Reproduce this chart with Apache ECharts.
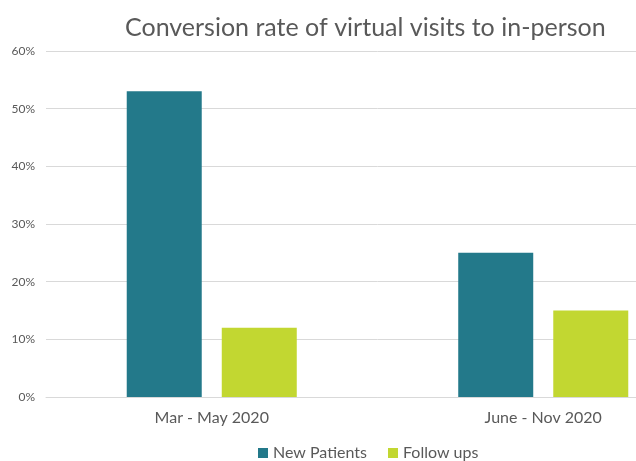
<!DOCTYPE html>
<html>
<head>
<meta charset="utf-8">
<script src="https://cdn.jsdelivr.net/npm/echarts@6/dist/echarts.min.js"></script>
<style>
  html, body { margin: 0; padding: 0; background: #fff; overflow: hidden; }
  /* the plot area runs past the right edge of the window */
  #chart { width: 709px; height: 461px; }
</style>
</head>
<body>
<div id="chart"></div>
<script>
// Conversion rate (%) of virtual visits to in-person, by period
const periods = ['Mar - May 2020', 'June - Nov 2020'];
const newPatients = [53, 25];
const followUps = [12, 15];
const yTicks = { min: 0, max: 60, step: 10 };

const textGrey = '#595959';
const chart = echarts.init(document.getElementById('chart'), null, { renderer: 'canvas' });

chart.setOption({
  animation: false,
  backgroundColor: '#ffffff',
  title: {
    text: 'Conversion rate of virtual visits to in-person',
    left: 120,
    top: 10,
    textStyle: {
      fontFamily: 'Lato',
      fontSize: 25,
      fontWeight: 'normal',
      color: textGrey
    }
  },
  legend: {
    top: 440,
    left: 253,
    itemWidth: 10,
    itemHeight: 10,
    itemGap: 21,
    icon: 'rect',
    textStyle: { fontFamily: 'Lato', fontSize: 16, color: textGrey },
    data: ['New Patients', 'Follow ups']
  },
  grid: { left: 46, right: 0, top: 51, bottom: 64 },
  xAxis: {
    type: 'category',
    data: periods,
    axisTick: { show: false },
    axisLine: { lineStyle: { color: '#d9d9d9', width: 1 } },
    axisLabel: { fontFamily: 'Lato', fontSize: 16, color: textGrey, margin: 13 }
  },
  yAxis: {
    type: 'value',
    min: yTicks.min,
    max: yTicks.max,
    interval: yTicks.step,
    axisLine: { show: false },
    axisTick: { show: false },
    splitLine: { lineStyle: { color: '#d9d9d9', width: 1 } },
    axisLabel: { formatter: '{value}%', fontFamily: 'Lato', fontSize: 12, color: textGrey, margin: 11 }
  },
  series: [
    {
      name: 'New Patients',
      type: 'bar',
      data: newPatients,
      barWidth: 75,
      barGap: '26.7%',
      itemStyle: { color: '#23798a' }
    },
    {
      name: 'Follow ups',
      type: 'bar',
      data: followUps,
      barWidth: 75,
      itemStyle: { color: '#c2d731' }
    }
  ]
});
</script>
</body>
</html>
